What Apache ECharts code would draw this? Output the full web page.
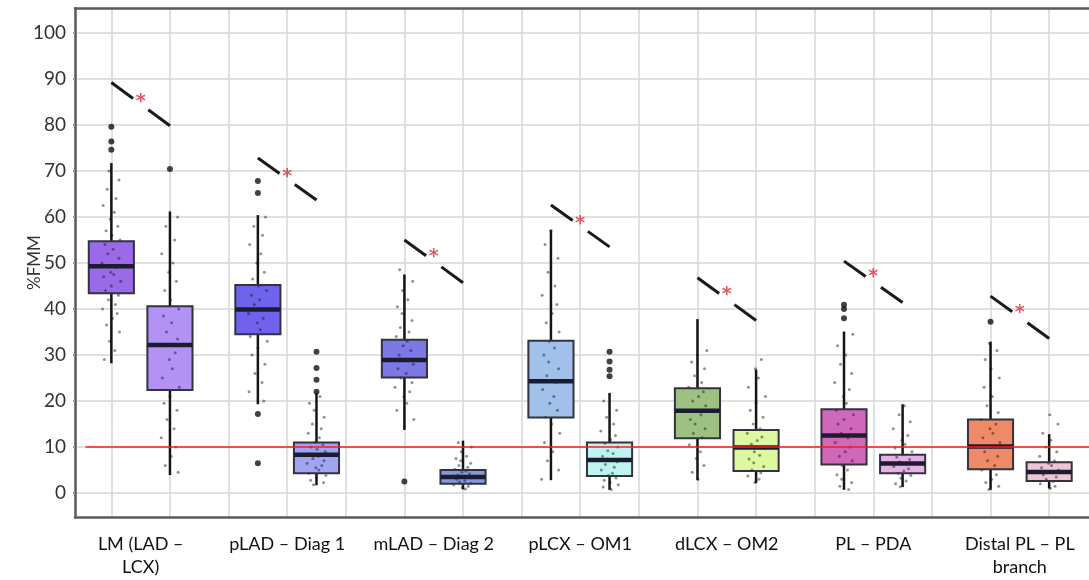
<!DOCTYPE html>
<html><head><meta charset="utf-8">
<script src="https://cdn.jsdelivr.net/npm/echarts@6/dist/echarts.min.js"></script>
<style>html,body{margin:0;padding:0;background:#fff}#c{width:1089px;height:580px}</style>
</head><body><div id="c"></div>
<script>
// ---------- DATA ----------
const categories = ["LM (LAD \u2013\nLCX)", "pLAD \u2013 Diag 1", "mLAD \u2013 Diag 2", "pLCX \u2013 OM1", "dLCX \u2013 OM2", "PL \u2013 PDA", "Distal PL \u2013 PL\nbranch"];
const yTicks = [0, 10, 20, 30, 40, 50, 60, 70, 80, 90, 100];
const xGridTicks = [1,2,3,4,5,6,7,8,9,10,11,12,13,14,15,16,17];
const groupCenters = [1.5, 4, 6.5, 9, 11.5, 14, 16.5];
// box positions (two per group) and stats: [min whisker, Q1, median, Q3, max whisker]
const boxPos = [1, 2, 3.5, 4.5, 6, 7, 8.5, 9.5, 11, 12, 13.5, 14.5, 16, 17];
const boxMin = [28.2, 3.9, 19.3, 1.7, 13.7, 0.8, 2.8, 0.7, 2.8, 2.2, 0.7, 1.3, 0.7, 1.0];
const boxQ1  = [43.4, 22.4, 34.5, 4.3, 25.1, 2.0, 16.4, 3.7, 11.9, 4.8, 6.2, 4.3, 5.2, 2.6];
const boxMed = [49.3, 32.2, 39.9, 8.3, 28.9, 3.5, 24.3, 7.2, 17.9, 9.9, 12.5, 6.4, 10.1, 4.6];
const boxQ3  = [54.7, 40.6, 45.2, 11.0, 33.3, 5.0, 33.1, 11.0, 22.8, 13.7, 18.2, 8.3, 16.0, 6.7];
const boxMax = [71.7, 61.2, 60.4, 21.7, 47.5, 11.4, 57.2, 21.7, 37.8, 26.8, 35.1, 19.3, 32.9, 12.8];
const boxColors = ["#9b6ae8", "#b392f6", "#6f63ee", "#9fa5f1", "#7c79e6", "#8797dc", "#a2c1ea", "#bff3f2", "#9dc183", "#dcf8a0", "#d068ba", "#e6b2e6", "#ee8a68", "#efc4d4"];
// individual observations (estimated) per box
const points = [
  [29,31,33,35,36.5,38,39,40,41,42,43,44,45,46,47,47.5,48,49,50,51,52,53,54,55,56,57,58,59.5,61,62.5,64,66,68,70],
  [4.5,6,8,10,12,14,16,18,19.5,21,23,25,27,29,30.5,32,33.5,35,37,38.5,40,42,44,46,48,50,52,55,58,60],
  [20,22,24,26,28,30,31.5,33,34,35.5,37,38,39,40,41,42,43,44,45,46.5,48,50,52,54,56,58,60],
  [1.8,2.3,2.8,3.3,3.8,4.3,5,5.5,6,6.5,7,7.5,8,8.5,9,9.5,10,10.5,11,12,13,14,15,16.5,18,19.5,21],
  [14.5,16,18,19.5,21,22,23,24,25,26,27,28,29,30,31,32,33,34,35,36,37.5,39,40.5,42,44,46,48.5],
  [0.9,1.2,1.5,1.8,2.1,2.4,2.7,3,3.3,3.6,3.9,4.2,4.5,4.8,5.2,5.6,6,6.5,7,7.5,8,9,10,11],
  [3,5,7,9,11,13,15,16.5,18,19.5,21,22.5,24,25.5,27,28.5,30,31.5,33,35,37,39,41,43,45,48,51,54,57],
  [0.8,1.3,1.8,2.3,2.8,3.3,3.8,4.3,5,5.6,6.2,6.8,7.4,8,8.6,9.2,10,10.8,11.6,12.5,13.5,15,16.5,18,20,21.5],
  [3,4.5,6,7.5,9,10.5,12,13,14,15,16,17,18,19,20,21,22,23,24,25.5,27,28.5,30,31],
  [2.3,3,3.7,4.4,5,5.8,6.6,7.4,8.2,9,9.8,10.6,11.4,12.2,13,14,15,16.5,18,19.5,21,23,25,27,29],
  [0.8,1.5,2.3,3,4,5,6,7,8,9,10,11,12,13,14,15,16,17,18,19.5,21,22.5,24,26,28,30,32,34.5],
  [1.4,2,2.6,3.2,3.8,4.3,4.8,5.3,5.8,6.3,6.8,7.3,7.8,8.3,9,9.8,10.6,11.5,12.5,14,15.5,17,19],
  [0.8,1.5,2.3,3,4,5,6,7,8,9,10,11,12,13,14,15,16,17.5,19,21,23,25,27,29,31,32.5],
  [1,1.5,2,2.5,3,3.5,4,4.5,5,5.5,6,6.5,7,8,9,10,11.5,13,15,17]
];
// outliers: [box index, value]
const outliers = [[0,79.6],[0,76.4],[0,74.6],[1,70.4],[2,67.8],[2,65.2],[2,17.2],[2,6.5],[3,22.0],[3,24.6],[3,27.2],[3,30.7],[4,2.5],[7,25.4],[7,26.8],[7,28.6],[7,30.7],[10,38.0],[10,40.0],[10,40.9],[12,37.2]];
// significance markers per group
const bracketTop = [89.2, 72.8, 55.0, 62.6, 46.8, 50.4, 42.8];
const bracketBottom = [79.8, 63.7, 45.7, 53.5, 37.5, 41.4, 33.6];
const starY = [86.0, 69.8, 52.3, 59.6, 44.1, 48.1, 40.3];
const refLineValue = 10;
// fixed horizontal spread pattern for the point cloud (presentation only)
const spread = [-0.12,0.06,-0.03,0.14,-0.08,0.02,0.1,-0.15,0.07,-0.05,0.12,-0.1,0.0,0.16,-0.13,0.04,-0.01,0.09,-0.16,0.13,-0.06,0.03,-0.11,0.15,0.01,-0.09,0.11,-0.02,0.05,-0.14,0.08,-0.07,0.13,-0.04];

// ---------- BUILD ----------
const X_MIN = 0.38, X_MAX = 17.68;
const boxData = boxPos.map((x, i) => [x, boxMin[i], boxQ1[i], boxMed[i], boxQ3[i], boxMax[i]]);
const pointData = [];
points.forEach((arr, i) => arr.forEach((v, j) => pointData.push([boxPos[i] + spread[(j + i * 3) % spread.length], v])));
const outlierData = outliers.map(o => [boxPos[o[0]], o[1]]);
const bracketLines = [];
groupCenters.forEach((c, k) => {
  const x0 = c - 0.5, x1 = c + 0.5, yT = bracketTop[k], yB = bracketBottom[k];
  const at = f => [x0 + f * (x1 - x0), yT + f * (yB - yT)];
  bracketLines.push({coords: [at(0), at(0.37)]});
  bracketLines.push({coords: [at(0.63), at(1)]});
});
const starData = groupCenters.map((c, k) => [c, starY[k]]);

const FONT = 'Lato, "Open Sans", sans-serif';
const chart = echarts.init(document.getElementById('c'), null, {renderer: 'canvas'});

function boxRender(fillOnly) {
  return function (params, api) {
    const x = api.value(0);
    const pMin = api.coord([x, api.value(1)]);
    const pQ1 = api.coord([x, api.value(2)]);
    const pMed = api.coord([x, api.value(3)]);
    const pQ3 = api.coord([x, api.value(4)]);
    const pMax = api.coord([x, api.value(5)]);
    const w = api.size([0.77, 0])[0];
    const cx = pMed[0];
    if (fillOnly) {
      return {type: 'rect', shape: {x: cx - w / 2, y: pQ3[1], width: w, height: pQ1[1] - pQ3[1]},
        style: {fill: boxColors[params.dataIndex]}};
    }
    return {type: 'group', children: [
      {type: 'line', shape: {x1: cx, y1: pQ3[1], x2: cx, y2: pMax[1]}, style: {stroke: '#151515', lineWidth: 2.5}},
      {type: 'line', shape: {x1: cx, y1: pQ1[1], x2: cx, y2: pMin[1]}, style: {stroke: '#151515', lineWidth: 2.5}},
      {type: 'rect', shape: {x: cx - w / 2, y: pQ3[1], width: w, height: pQ1[1] - pQ3[1]},
        style: {fill: 'none', stroke: '#333340', lineWidth: 2}},
      {type: 'line', shape: {x1: cx - w / 2, y1: pMed[1], x2: cx + w / 2, y2: pMed[1]}, style: {stroke: '#1c1c30', lineWidth: 4.5}}
    ]};
  };
}

const borderStyle = {color: '#5a5a5a', width: 2.5};
chart.setOption({
  animation: false,
  backgroundColor: '#fff',
  grid: {left: 75, right: 0, top: 8, bottom: 63, show: false},
  xAxis: [{
    type: 'value', min: X_MIN, max: X_MAX, position: 'bottom',
    axisLine: {show: true, onZero: false, lineStyle: borderStyle},
    axisTick: {show: false, customValues: xGridTicks},
    splitLine: {show: true, lineStyle: {color: '#d6d6d6', width: 1.5}},
    axisLabel: {
      customValues: groupCenters, margin: 16, color: '#111', fontFamily: FONT, fontSize: 18, lineHeight: 23,
      formatter: v => { const i = groupCenters.indexOf(v); return i >= 0 ? categories[i] : ''; }
    }
  }, {
    type: 'value', min: X_MIN, max: X_MAX, position: 'top',
    axisLine: {show: true, onZero: false, lineStyle: borderStyle},
    axisTick: {show: false}, splitLine: {show: false}, axisLabel: {show: false}
  }],
  yAxis: {
    type: 'value', min: -5.2, max: 105.4,
    name: '%FMM', nameLocation: 'middle', nameGap: 32, nameMoveOverlap: false,
    nameTextStyle: {color: '#333', fontFamily: FONT, fontSize: 17},
    axisLine: {show: true, onZero: false, lineStyle: borderStyle},
    axisTick: {show: true, customValues: yTicks, length: 2, inside: false, lineStyle: {color: '#999', width: 2}},
    splitLine: {show: true, lineStyle: {color: '#d6d6d6', width: 1.5}},
    axisLabel: {customValues: yTicks, margin: 9, color: '#333', fontFamily: FONT, fontSize: 19}
  },
  series: [
    {type: 'custom', name: 'boxFill', data: boxData, renderItem: boxRender(true), z: 2, silent: true,
      encode: {x: 0, y: [1, 2, 3, 4, 5]},
      markLine: {silent: true, symbol: 'none', label: {show: false}, z: 10,
        lineStyle: {color: '#ff1a1a', width: 1.6, type: 'solid'},
        data: [[{coord: [0.56, refLineValue]}, {coord: [X_MAX, refLineValue]}]]}},
    {type: 'scatter', name: 'points', data: pointData, symbolSize: 3, z: 3, silent: true,
      itemStyle: {color: 'rgba(25,25,25,0.6)'}},
    {type: 'custom', name: 'boxLines', data: boxData, renderItem: boxRender(false), z: 4, silent: true,
      encode: {x: 0, y: [1, 2, 3, 4, 5]}},
    {type: 'scatter', name: 'outliers', data: outlierData, symbolSize: 6, z: 5, silent: true,
      itemStyle: {color: '#111'}},
    {type: 'lines', coordinateSystem: 'cartesian2d', data: bracketLines, z: 5, silent: true,
      lineStyle: {color: '#1a1a1a', width: 3, opacity: 1}},
    {type: 'scatter', name: 'stars', data: starData, symbolSize: 1, z: 6, silent: true,
      itemStyle: {color: 'rgba(0,0,0,0)'},
      label: {show: true, position: 'inside', formatter: '*', color: '#e0303a', fontSize: 19, fontWeight: 'bold', fontFamily: 'DejaVu Sans', offset: [0, 5]}}
  ]
});
</script></body></html>
